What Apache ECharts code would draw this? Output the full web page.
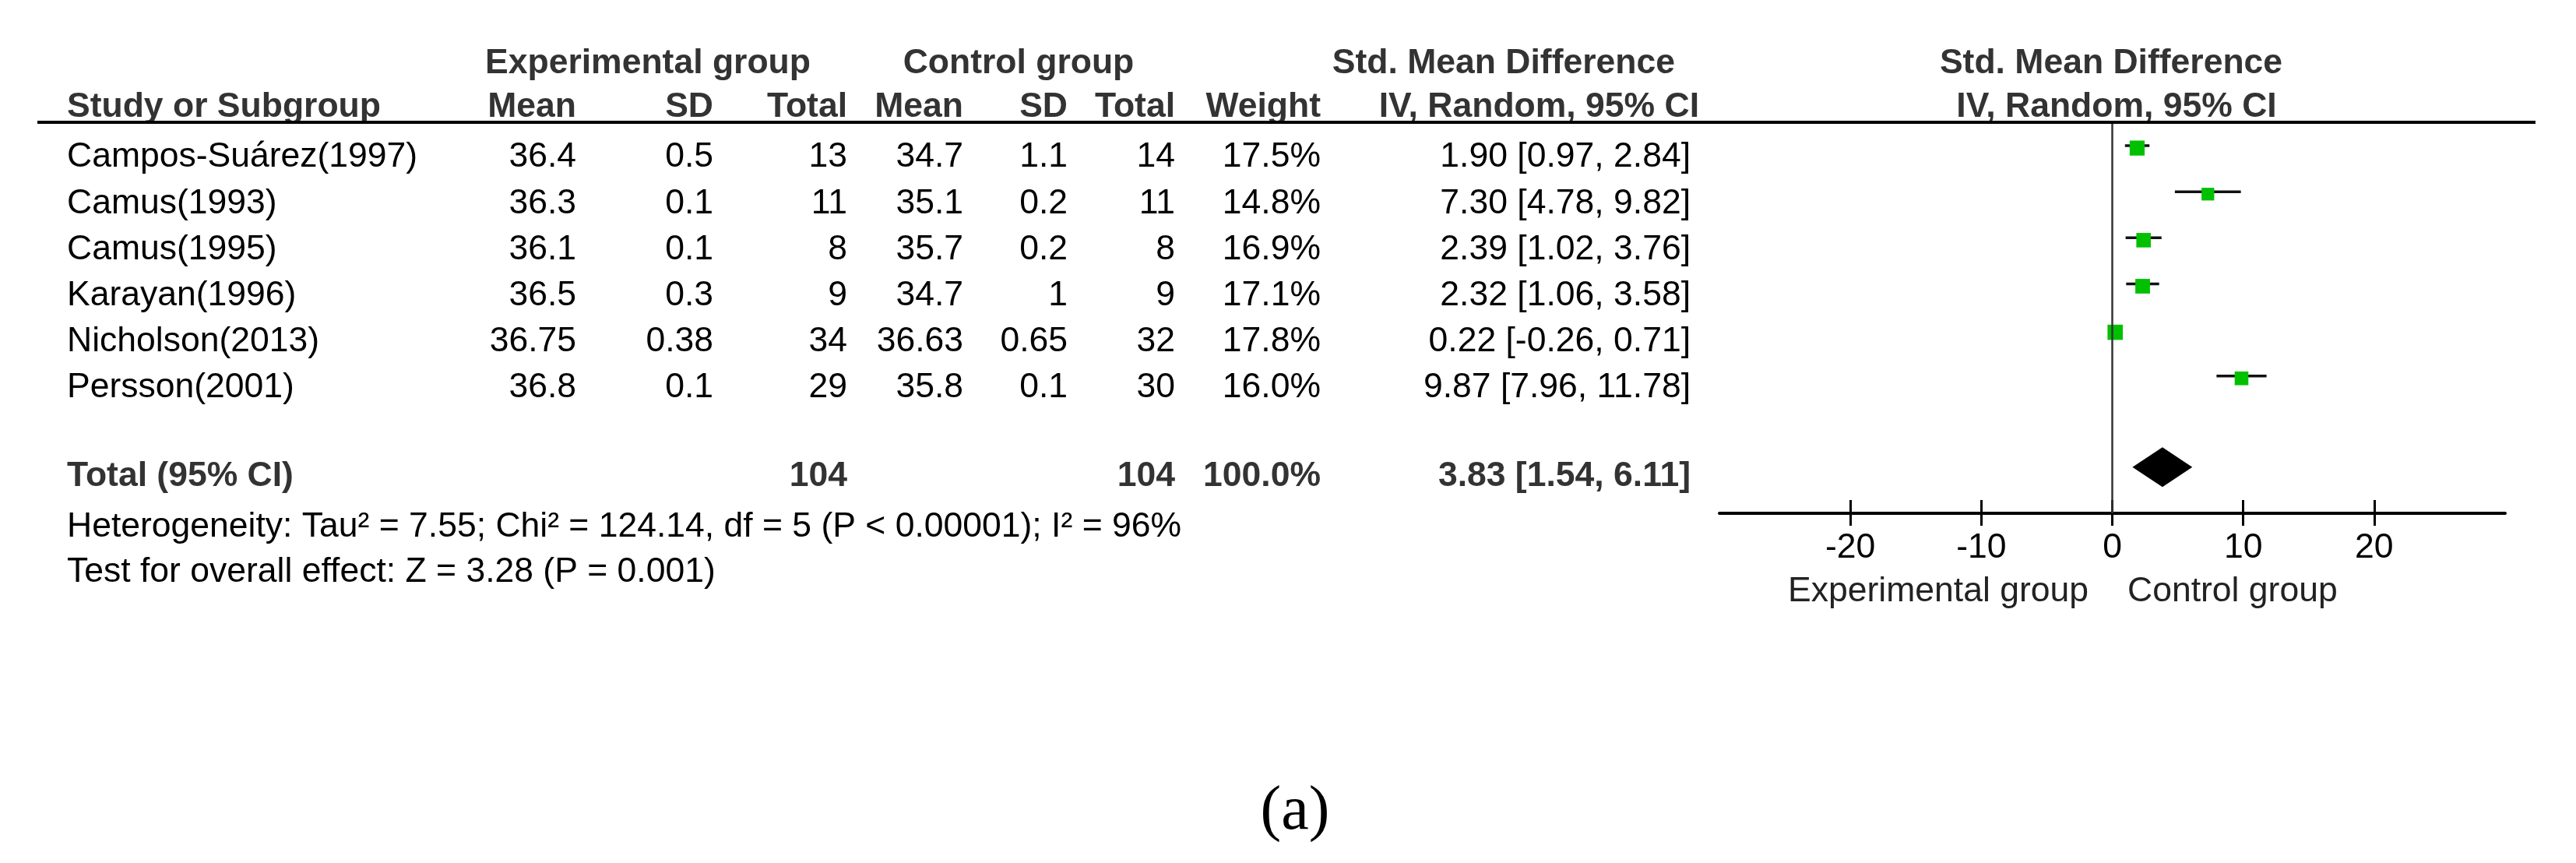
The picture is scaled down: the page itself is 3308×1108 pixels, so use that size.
<!DOCTYPE html>
<html><head><meta charset="utf-8">
<script src="https://cdn.jsdelivr.net/npm/echarts@6/dist/echarts.min.js"></script>
<style>html,body{margin:0;padding:0;background:#fff}#c{width:3308px;height:1108px}</style>
</head><body><div id="c"></div>
<script>
// ---------------- data ----------------
const studies   = ['Campos-Suárez(1997)','Camus(1993)','Camus(1995)','Karayan(1996)','Nicholson(2013)','Persson(2001)'];
const expMean   = ['36.4','36.3','36.1','36.5','36.75','36.8'];
const expSD     = ['0.5','0.1','0.1','0.3','0.38','0.1'];
const expTotal  = [13,11,8,9,34,29];
const ctrlMean  = ['34.7','35.1','35.7','34.7','36.63','35.8'];
const ctrlSD    = ['1.1','0.2','0.2','1','0.65','0.1'];
const ctrlTotal = [14,11,8,9,32,30];
const weight    = [17.5,14.8,16.9,17.1,17.8,16.0];
const smd       = [1.90,7.30,2.39,2.32,0.22,9.87];
const ciLow     = [0.97,4.78,1.02,1.06,-0.26,7.96];
const ciHigh    = [2.84,9.82,3.76,3.58,0.71,11.78];
const totalLabel = 'Total (95% CI)';
const totalExp = 104, totalCtrl = 104, totalWeight = '100.0%';
const pooledEst = 3.83, pooledLow = 1.54, pooledHigh = 6.11;
const xTicks = [-20,-10,0,10,20];
const heterogeneity = 'Heterogeneity: Tau² = 7.55; Chi² = 124.14, df = 5 (P < 0.00001); I² = 96%';
const overall = 'Test for overall effect: Z = 3.28 (P = 0.001)';
const favourLeft = 'Experimental group', favourRight = 'Control group';

// ---------------- layout ----------------
const FONT = '"Liberation Sans", Arial, sans-serif';
const FS = 44.5;
const TOTAL_ROW = 6.93;
const TEXT_DY = 12;
const colX = {study:86, expMean:740, expSD:916, expTotal:1088, ctrlMean:1237, ctrlSD:1371, ctrlTotal:1509, weight:1696, ci:2171};
const f2 = v => v.toFixed(2);
const ciText = i => f2(smd[i]) + ' [' + f2(ciLow[i]) + ', ' + f2(ciHigh[i]) + ']';

function txt(text, x, y, align, bold, color) {
  return {type:'text', silent:true, style:{text:String(text), x:x, y:y, align:align||'left', verticalAlign:'middle',
    font:(bold?'bold ':'') + FS + 'px ' + FONT, fill:color || (bold ? '#333' : '#000')}};
}

const chart = echarts.init(document.getElementById('c'), null, {renderer:'canvas'});

const tableRows = studies.map((s,i)=>[0,i]).concat([[0,TOTAL_ROW]]);

const option = {
  animation:false,
  backgroundColor:'#fff',
  grid:{left:2208, right:91, top:157, bottom:449, containLabel:false},
  xAxis:[{
    type:'value', min:-30, max:30, interval:10, position:'bottom',
    axisLine:{show:true, onZero:false, lineStyle:{color:'#000', width:4}},
    axisTick:{show:true, customValues:xTicks, length:16, lineStyle:{color:'#000', width:3}},
    axisLabel:{customValues:xTicks, fontSize:FS, fontFamily:FONT, color:'#000', margin:22},
    splitLine:{show:false}
  },{
    type:'value', min:-30, max:30, interval:10, position:'bottom',
    axisLine:{show:false, onZero:false},
    axisTick:{show:true, inside:true, customValues:xTicks, length:17, lineStyle:{color:'#000', width:3}},
    axisLabel:{show:false}, splitLine:{show:false}
  }],
  yAxis:{type:'value', min:-0.56, max:7.93, inverse:true, show:false},
  series:[
    { // CI whiskers
      type:'custom', xAxisIndex:0, silent:true, z:2,
      data: studies.map((s,i)=>[ciLow[i], ciHigh[i], i]),
      encode:{x:[0,1], y:2},
      renderItem:(params, api)=>{
        const a = api.coord([api.value(0), api.value(2)]);
        const b = api.coord([api.value(1), api.value(2)]);
        return {type:'line', shape:{x1:a[0], y1:a[1]-3, x2:b[0], y2:b[1]-3}, style:{stroke:'#111', lineWidth:3.5}};
      }
    },
    { // point estimates
      type:'scatter', xAxisIndex:0, silent:true, z:3,
      symbol:'rect',
      data: studies.map((s,i)=>[smd[i], i, weight[i]]),
      symbolSize: v => v[2]*1.1,
      itemStyle:{color:'#00C000', opacity:1},
      markLine:{silent:true, symbol:'none', label:{show:false},
        lineStyle:{color:'#333', width:2.5, type:'solid'},
        data:[{xAxis:0}]}
    },
    { // pooled diamond
      type:'custom', xAxisIndex:0, silent:true, z:3,
      data:[[pooledLow, pooledEst, pooledHigh, TOTAL_ROW]],
      encode:{x:[0,1,2], y:3},
      renderItem:(params, api)=>{
        const l = api.coord([api.value(0), api.value(3)]);
        const m = api.coord([api.value(1), api.value(3)]);
        const r = api.coord([api.value(2), api.value(3)]);
        const h = 25.5;
        return {type:'polygon', shape:{points:[[l[0],l[1]],[m[0],m[1]-h],[r[0],r[1]],[m[0],m[1]+h]]}, style:{fill:'#000'}};
      }
    },
    { // table text rows, aligned to the same row scale
      type:'custom', xAxisIndex:0, silent:true, clip:false, z:5,
      data: tableRows,
      encode:{x:0, y:1},
      renderItem:(params, api)=>{
        const row = api.value(1);
        const y = api.coord([0,row])[1] + TEXT_DY;
        const i = params.dataIndex;
        if (row === TOTAL_ROW) {
          return {type:'group', children:[
            txt(totalLabel, colX.study, y, 'left', true),
            txt(totalExp, colX.expTotal, y, 'right', true),
            txt(totalCtrl, colX.ctrlTotal, y, 'right', true),
            txt(totalWeight, colX.weight, y, 'right', true),
            txt(f2(pooledEst)+' ['+f2(pooledLow)+', '+f2(pooledHigh)+']', colX.ci, y, 'right', true)
          ]};
        }
        return {type:'group', children:[
          txt(studies[i], colX.study, y, 'left'),
          txt(expMean[i], colX.expMean, y, 'right'),
          txt(expSD[i], colX.expSD, y, 'right'),
          txt(expTotal[i], colX.expTotal, y, 'right'),
          txt(ctrlMean[i], colX.ctrlMean, y, 'right'),
          txt(ctrlSD[i], colX.ctrlSD, y, 'right'),
          txt(ctrlTotal[i], colX.ctrlTotal, y, 'right'),
          txt(weight[i].toFixed(1)+'%', colX.weight, y, 'right'),
          txt(ciText(i), colX.ci, y, 'right')
        ]};
      }
    }
  ],
  graphic:[
    {type:'line', silent:true, shape:{x1:48, y1:157, x2:3256, y2:157}, style:{stroke:'#000', lineWidth:4}, z:10},
    txt('Experimental group', 832, 82, 'center', true),
    txt('Control group', 1308, 82, 'center', true),
    txt('Std. Mean Difference', 2151, 82, 'right', true),
    txt('Std. Mean Difference', 2711, 82, 'center', true),
    txt('Study or Subgroup', colX.study, 138, 'left', true),
    txt('Mean', colX.expMean, 138, 'right', true),
    txt('SD', colX.expSD, 138, 'right', true),
    txt('Total', colX.expTotal, 138, 'right', true),
    txt('Mean', colX.ctrlMean, 138, 'right', true),
    txt('SD', colX.ctrlSD, 138, 'right', true),
    txt('Total', colX.ctrlTotal, 138, 'right', true),
    txt('Weight', colX.weight, 138, 'right', true),
    txt('IV, Random, 95% CI', 2182, 138, 'right', true),
    txt('IV, Random, 95% CI', 2718, 138, 'center', true),
    txt(heterogeneity, colX.study, 677, 'left'),
    txt(overall, colX.study, 735, 'left'),
    txt(favourLeft, 2682, 760, 'right', false, '#222'),
    txt(favourRight, 2732, 760, 'left', false, '#222'),
    {type:'text', silent:true, style:{text:'(a)', x:1663, y:1043, align:'center', verticalAlign:'middle',
      font:'80px "Liberation Serif", "Times New Roman", serif', fill:'#000'}}
  ]
};
chart.setOption(option);
</script>
</body></html>
